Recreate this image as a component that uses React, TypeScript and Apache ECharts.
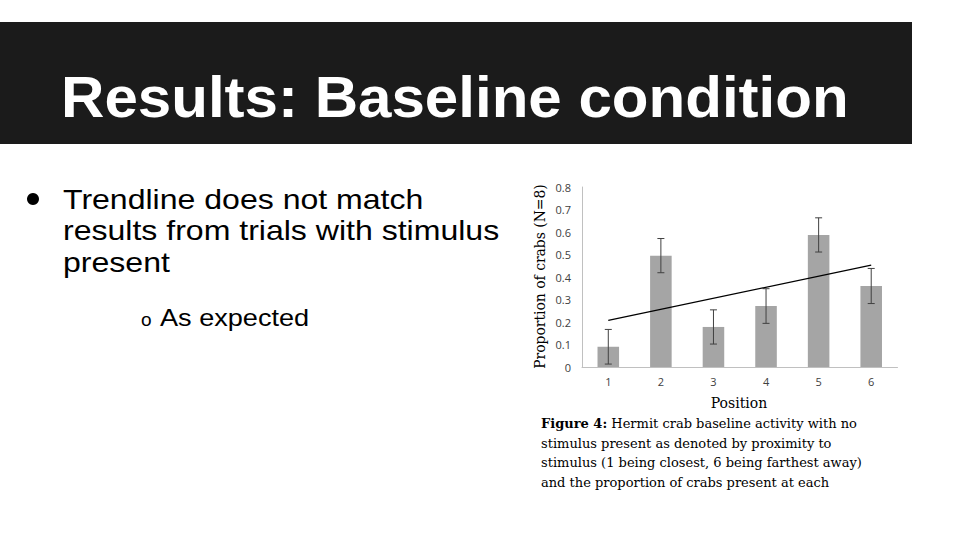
import React, { useEffect, useRef } from "react";
import * as echarts from "echarts";

const positions = ["1", "2", "3", "4", "5", "6"];
const proportions = [0.09, 0.495, 0.178, 0.271, 0.587, 0.36];
const errors = [0.077, 0.076, 0.076, 0.077, 0.076, 0.078];
const trendEnds = [0.207, 0.453];
const yTicks = [0, 0.1, 0.2, 0.3, 0.4, 0.5, 0.6, 0.7, 0.8];

const titleText = "Results: Baseline condition";
const bulletLines = ["Trendline does not match", "results from trials with stimulus", "present"];
const subBullet = "As expected";
const yAxisName = "Proportion of crabs (N=8)";
const xAxisName = "Position";
const captionLines = [
  "stimulus present as denoted by proximity to",
  "stimulus (1 being closest, 6 being farthest away)",
  "and the proportion of crabs present at each",
];

export default function App() {
  const ref = useRef<HTMLDivElement>(null);
  useEffect(() => {
    if (!ref.current) return;
    const chart = echarts.init(ref.current, null, { renderer: "svg" });
    const errData = positions.map((_, i) => [i, proportions[i] - errors[i], proportions[i] + errors[i]]);
    const serif = "DejaVu Serif";
    const sans = "Liberation Sans";
    chart.setOption({
      animation: false,
      backgroundColor: "#ffffff",
      grid: { left: 582, right: 62.5, top: 187, bottom: 173, containLabel: false },
      xAxis: {
        type: "category",
        data: positions,
        boundaryGap: true,
        axisLine: { show: true, lineStyle: { color: "#c0c0c0", width: 1 } },
        axisTick: { show: false },
        axisLabel: { color: "#404040", fontSize: 11, fontFamily: "Open Sans", margin: 9 },
        splitLine: { show: false },
      },
      yAxis: {
        type: "value",
        min: yTicks[0],
        max: yTicks[yTicks.length - 1],
        interval: 0.1,
        axisLine: { show: true, lineStyle: { color: "#c0c0c0", width: 1 } },
        axisTick: { show: false },
        splitLine: { show: false },
        axisLabel: {
          color: "#404040",
          fontSize: 11,
          fontFamily: "Open Sans",
          margin: 11,
          formatter: (v: number) => (v === 0 ? "0" : v.toFixed(1)),
        },
      },
      series: [
        {
          type: "bar",
          data: proportions,
          barWidth: "41%",
          itemStyle: { color: "#a5a5a5" },
          z: 2,
        },
        {
          type: "custom",
          data: errData,
          encode: { x: 0, y: [1, 2] },
          z: 4,
          renderItem: (params: any, api: any) => {
            const i = api.value(0);
            const lo = api.coord([i, api.value(1)]);
            const hi = api.coord([i, api.value(2)]);
            const cap = 3.5;
            const style = { stroke: "#404040", lineWidth: 1 };
            return {
              type: "group",
              children: [
                { type: "line", shape: { x1: lo[0], y1: lo[1], x2: hi[0], y2: hi[1] }, style },
                { type: "line", shape: { x1: lo[0] - cap, y1: lo[1], x2: lo[0] + cap, y2: lo[1] }, style },
                { type: "line", shape: { x1: hi[0] - cap, y1: hi[1], x2: hi[0] + cap, y2: hi[1] }, style },
              ],
            };
          },
        },
        {
          type: "line",
          data: [
            [0, trendEnds[0]],
            [positions.length - 1, trendEnds[1]],
          ],
          symbol: "none",
          lineStyle: { color: "#000000", width: 1.2 },
          z: 5,
        },
      ],
      graphic: [
        { type: "rect", shape: { x: 0, y: 22, width: 912, height: 122 }, style: { fill: "#1b1b1b" }, z: 0 },
        {
          type: "text",
          x: 61,
          y: 97.5,
          scaleX: 1.054,
          style: {
            text: titleText,
            fill: "#ffffff",
            font: `bold 57px "${sans}"`,
            textVerticalAlign: "middle",
          },
        },
        { type: "circle", shape: { cx: 33, cy: 199, r: 6 }, style: { fill: "#000000" } },
        ...bulletLines.map((t, i) => ({
          type: "text",
          x: 63,
          y: 199 + i * 31.5,
          scaleX: 1.145,
          style: { text: t, fill: "#000000", font: `28px "${sans}"`, textVerticalAlign: "middle" },
        })),
        {
          type: "text",
          x: 141,
          y: 319,
          style: { text: "o", fill: "#000000", font: `19px "${sans}"`, textVerticalAlign: "middle" },
        },
        {
          type: "text",
          x: 160,
          y: 318,
          scaleX: 1.13,
          style: { text: subBullet, fill: "#000000", font: `24px "${sans}"`, textVerticalAlign: "middle" },
        },
        {
          type: "text",
          x: 540,
          y: 276.5,
          rotation: Math.PI / 2,
          style: {
            text: yAxisName,
            fill: "#000000",
            font: `13.9px "${serif}"`,
            textAlign: "center",
            textVerticalAlign: "middle",
          },
        },
        {
          type: "text",
          x: 739,
          y: 403,
          style: {
            text: xAxisName,
            fill: "#000000",
            font: `14px "${serif}"`,
            textAlign: "center",
            textVerticalAlign: "middle",
          },
        },
        {
          type: "text",
          x: 541,
          y: 423,
          style: {
            text: "{b|Figure 4:} Hermit crab baseline activity with no",
            textVerticalAlign: "middle",
            rich: {
              b: { font: `bold 13px "${serif}"`, fill: "#000000" },
            },
            font: `13px "${serif}"`,
            fill: "#000000",
          },
        },
        ...captionLines.map((t, i) => ({
          type: "text",
          x: 541,
          y: 443 + i * 19.7,
          style: { text: t, fill: "#000000", font: `13px "${serif}"`, textVerticalAlign: "middle" },
        })),
      ],
    });
    return () => chart.dispose();
  }, []);
  return <div ref={ref} style={{ position: "fixed", left: 0, top: 0, width: 960, height: 540 }} />;
}
